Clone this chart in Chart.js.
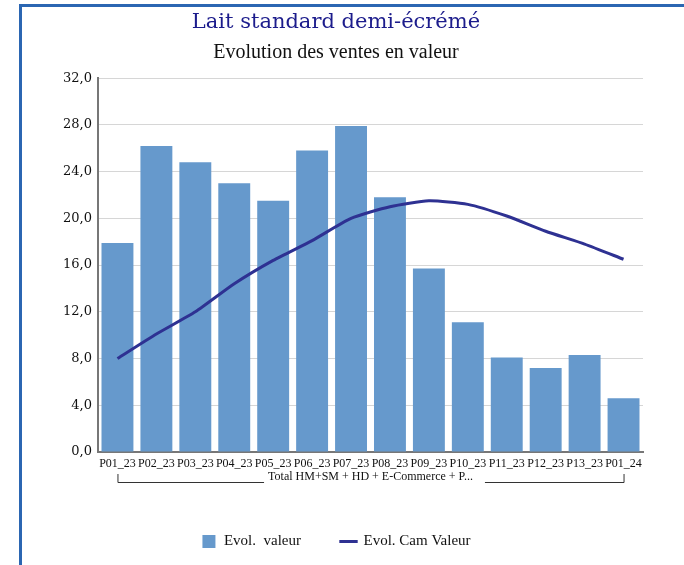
<!DOCTYPE html>
<html>
<head>
<meta charset="utf-8">
<script src="https://cdn.jsdelivr.net/npm/chart.js@4.4.1/dist/chart.umd.min.js"></script>
<style>
  html, body { margin: 0; padding: 0; background: #fff; }
  #frame { position: absolute; left: 19px; top: 4px; width: 700px; height: 600px;
           border-left: 3px solid #2b66b2; border-top: 3px solid #2b66b2; }
  #wrap { position: absolute; left: 0; top: 0; width: 684px; height: 565px; }
</style>
</head>
<body>
<div id="frame"></div>
<div id="wrap"><canvas id="chart"></canvas></div>
<script>
var periods = ['P01_23','P02_23','P03_23','P04_23','P05_23','P06_23','P07_23','P08_23','P09_23','P10_23','P11_23','P12_23','P13_23','P01_24'];
var evolValeur = [17.9, 26.2, 24.8, 23.0, 21.5, 25.8, 27.9, 21.8, 15.7, 11.1, 8.1, 7.2, 8.3, 4.6];
var evolCamValeur = [8.0, 10.1, 12.0, 14.4, 16.4, 18.1, 20.0, 21.0, 21.5, 21.2, 20.2, 18.9, 17.8, 16.5];
var groupLabel = 'Total HM+SM + HD + E-Commerce + P...';
var serif = "'Liberation Serif', 'DejaVu Serif', serif";
var wideSerif = "'DejaVu Serif', 'Liberation Serif', serif";

// bracket under the category labels
var groupBracket = {
    id: 'groupBracket',
    afterDraw: function(chart) {
        var ctx = chart.ctx;
        var x = chart.scales.x;
        var x0 = x.getPixelForValue(0), x1 = x.getPixelForValue(periods.length - 1);
        var yLine = x.top + 30, yTop = yLine - 8, yText = yLine - 5;
        ctx.save();
        ctx.font = '12px ' + serif;
        var tw = ctx.measureText(groupLabel).width;
        var cx = (x0 + x1) / 2;
        ctx.strokeStyle = '#333';
        ctx.lineWidth = 1;
        ctx.beginPath();
        ctx.moveTo(x0 + 0.5, yTop); ctx.lineTo(x0 + 0.5, yLine + 0.5); ctx.lineTo(cx - tw / 2 - 4, yLine + 0.5);
        ctx.moveTo(cx + tw / 2 + 12, yLine + 0.5); ctx.lineTo(x1 + 0.5, yLine + 0.5); ctx.lineTo(x1 + 0.5, yTop);
        ctx.stroke();
        ctx.fillStyle = '#111';
        ctx.textAlign = 'center';
        ctx.textBaseline = 'middle';
        ctx.fillText(groupLabel, cx, yText);
        ctx.restore();
    }
};

new Chart(document.getElementById('chart'), {
    data: {
        labels: periods,
        datasets: [{
            type: 'line',
            label: 'Evol. Cam Valeur',
            data: evolCamValeur,
            borderColor: '#2e3192',
            backgroundColor: '#2e3192',
            borderWidth: 3,
            pointRadius: 0,
            pointStyle: 'line',
            tension: 0.2,
            order: 0
        }, {
            type: 'bar',
            label: 'Evol.  valeur',
            data: evolValeur,
            backgroundColor: '#6699cc',
            borderWidth: 0,
            pointStyle: 'rect',
            barPercentage: 0.82,
            categoryPercentage: 1,
            order: 1
        }]
    },
    options: {
        responsive: true,
        maintainAspectRatio: false,
        animation: false,
        layout: { padding: { left: 29, right: 41, top: 0, bottom: 6 } },
        plugins: {
            title: {
                display: true,
                text: 'Lait standard demi-écrémé',
                color: '#1c1c8c',
                font: { family: wideSerif, size: 21, weight: 'normal' },
                padding: { top: 10, bottom: 2 }
            },
            subtitle: {
                display: true,
                text: 'Evolution des ventes en valeur',
                color: '#111',
                font: { family: serif, size: 20, weight: 'normal' },
                padding: { top: 4, bottom: 13 }
            },
            legend: {
                position: 'bottom',
                reverse: true,
                labels: {
                    usePointStyle: true,
                    boxHeight: 13,
                    padding: 40,
                    color: '#111',
                    font: { family: serif, size: 15 }
                }
            },
            tooltip: { enabled: false }
        },
        scales: {
            x: {
                grid: { display: false },
                border: { color: '#777', width: 2 },
                ticks: { color: '#111', font: { family: serif, size: 12 }, maxRotation: 0, autoSkip: false, padding: -3 },
                afterFit: function(scale) { scale.height = 42; }
            },
            y: {
                min: 0, max: 32,
                grid: { color: '#d6d6d6', drawTicks: false },
                border: { color: '#777', width: 2 },
                ticks: {
                    stepSize: 4,
                    color: '#111',
                    padding: 6,
                    font: { family: wideSerif, size: 13 },
                    callback: function(v) { return v.toFixed(1).replace('.', ','); }
                },
                afterFit: function(scale) { scale.width = 69; }
            }
        }
    },
    plugins: [groupBracket]
});
</script>
</body>
</html>
